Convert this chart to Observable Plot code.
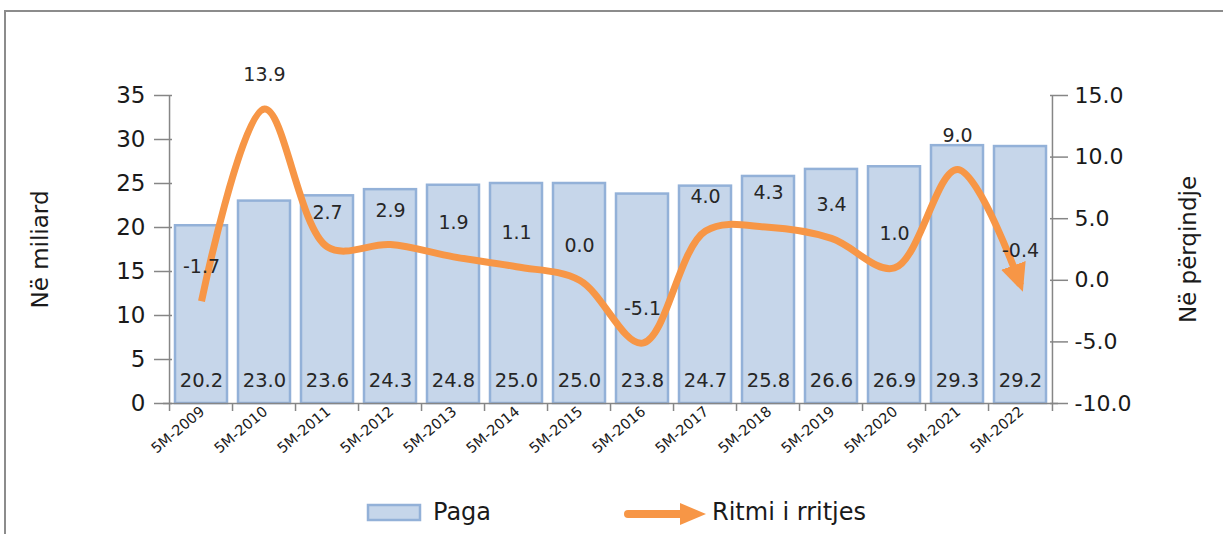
<!DOCTYPE html>
<html>
<head>
<meta charset="utf-8">
<script src="https://cdn.jsdelivr.net/npm/d3@7"></script>
<script src="https://cdn.jsdelivr.net/npm/@observablehq/plot@0.6"></script>
<style>
  html, body { margin: 0; padding: 0; background: #fff; overflow: hidden; }
  body { width: 1223px; height: 534px; position: relative; font-family: "DejaVu Sans", sans-serif; }
  #frame { position: absolute; left: 4px; top: 10px; width: 1400px; height: 700px;
           border-top: 2px solid #8c8c8c; border-left: 2px solid #8c8c8c; box-sizing: border-box; }
  #chart { position: absolute; left: 0; top: 0; }
  #legend { position: absolute; left: 0; top: 0; width: 1223px; height: 534px; pointer-events: none; }
  .leg { position: absolute; font-size: 24px; color: #1a1a1a; line-height: 1; }
</style>
</head>
<body>
<div id="frame"></div>
<div id="chart"></div>
<div id="legend">
  <svg style="position:absolute;left:366px;top:503px" width="58" height="20">
    <rect x="2" y="2" width="52" height="15" fill="#c6d6ea" stroke="#93b1d8" stroke-width="2.5"></rect>
  </svg>
  <div class="leg" style="left:433px;top:500px">Paga</div>
  <svg style="position:absolute;left:620px;top:500px" width="90" height="28">
    <line x1="8" y1="14" x2="64" y2="14" stroke="#f79646" stroke-width="8" stroke-linecap="round"></line>
    <path d="M60,3 L86,14 L60,25 Z" fill="#f79646"></path>
  </svg>
  <div class="leg" style="left:712px;top:500px">Ritmi i rritjes</div>
</div>
<script>
const categories = ["5M-2009","5M-2010","5M-2011","5M-2012","5M-2013","5M-2014","5M-2015",
                    "5M-2016","5M-2017","5M-2018","5M-2019","5M-2020","5M-2021","5M-2022"];
const paga  = [20.2, 23.0, 23.6, 24.3, 24.8, 25.0, 25.0, 23.8, 24.7, 25.8, 26.6, 26.9, 29.3, 29.2];
const ritmi = [-1.7, 13.9, 2.7, 2.9, 1.9, 1.1, 0.0, -5.1, 4.0, 4.3, 3.4, 1.0, 9.0, -0.4];
const leftTicks  = [0, 5, 10, 15, 20, 25, 30, 35];
const rightTicks = [-10, -5, 0, 5, 10, 15];

const leftDomain = [0, 35];
const rightDomain = [-10, 15];
const toLeft = v => leftDomain[0] + (v - rightDomain[0]) * (leftDomain[1] - leftDomain[0]) / (rightDomain[1] - rightDomain[0]);
const toRight = v => rightDomain[0] + (v - leftDomain[0]) * (rightDomain[1] - rightDomain[0]) / (leftDomain[1] - leftDomain[0]);

const data = categories.map((c, i) => ({cat: c, paga: paga[i], ritmi: ritmi[i], r2: toLeft(ritmi[i])}));

const W = 1223, H = 470, mL = 163, mR = 165, mT = 95, mB = 67;
const step = (W - mL - mR) / categories.length;
const axisColor = "#868686";
const textColor = "#262626";
const font = "'DejaVu Sans', sans-serif";

const plot = Plot.plot({
  width: W, height: H,
  marginLeft: mL, marginRight: mR, marginTop: mT, marginBottom: mB,
  style: {background: "transparent", fontFamily: font, color: textColor},
  x: {domain: categories, paddingInner: 0.18, paddingOuter: 0.09, axis: null},
  y: {domain: leftDomain, axis: null},
  marks: [
    Plot.barY(data, {x: "cat", y: "paga", fill: "#c6d6ea", stroke: "#93b1d8", strokeWidth: 2.5}),
    // axis lines
    Plot.ruleX([categories[0]], {x: d => d, y1: leftDomain[0], y2: leftDomain[1], dx: -step / 2, stroke: axisColor, strokeWidth: 1.5}),
    Plot.ruleX([categories[categories.length - 1]], {x: d => d, y1: leftDomain[0], y2: leftDomain[1], dx: step / 2, stroke: axisColor, strokeWidth: 1.5}),
    Plot.ruleY([0], {stroke: axisColor, strokeWidth: 1.5}),
    // left axis
    Plot.axisY(leftTicks, {anchor: "left", tickSize: 18, dx: 9, tickFormat: () => "", stroke: axisColor, strokeWidth: 1.5, label: null}),
    Plot.axisY(leftTicks, {anchor: "left", tickSize: 0, tickPadding: 18, fontSize: 23, fill: "#1a1a1a", label: null}),
    // right axis
    Plot.axisY(rightTicks.map(toLeft), {anchor: "right", tickSize: 18, dx: -9, tickFormat: () => "", stroke: axisColor, strokeWidth: 1.5, label: null}),
    Plot.axisY(rightTicks.map(toLeft), {anchor: "right", tickSize: 0, tickPadding: 16, fontSize: 22, fill: "#1a1a1a",
      tickFormat: d => toRight(d).toFixed(1), label: null}),
    // bottom axis
    Plot.axisX(categories, {anchor: "bottom", tickSize: 8, dx: -step / 2, tickFormat: () => "", stroke: axisColor, strokeWidth: 1.5, label: null}),
    Plot.axisX([categories[categories.length - 1]], {anchor: "bottom", tickSize: 8, dx: step / 2, tickFormat: () => "", stroke: axisColor, strokeWidth: 1.5, label: null}),
    Plot.axisX(categories, {anchor: "bottom", tickSize: 0, tickPadding: 6, tickRotate: -40, fontSize: 14.5, fill: "#1a1a1a", dx: 1, label: null}),
    // bar value labels
    Plot.text(data, {x: "cat", y: 0, text: d => d.paga.toFixed(1), dy: -23, fontSize: 19.5, fill: textColor}),
    // growth line
    Plot.line(data, {x: "cat", y: "r2", stroke: "#f79646", strokeWidth: 7, curve: "catmull-rom", strokeLinecap: "butt"}),
    Plot.text(data, {x: "cat", y: "r2", text: d => d.ritmi.toFixed(1), dy: -34, fontSize: 19, fill: textColor}),
    // axis titles
    Plot.text(["Në miliard"], {frameAnchor: "left", dx: -123, rotate: -90, textAnchor: "middle", fontSize: 23, fill: "#1a1a1a"}),
    Plot.text(["Në përqindje"], {frameAnchor: "right", dx: 130, rotate: -90, textAnchor: "middle", fontSize: 23, fill: "#1a1a1a"})
  ]
});

// filled arrowhead at the end of the growth line
const ns = "http://www.w3.org/2000/svg";
const defs = document.createElementNS(ns, "defs");
const marker = document.createElementNS(ns, "marker");
marker.setAttribute("id", "arrowhead");
marker.setAttribute("viewBox", "0 0 28 26");
marker.setAttribute("markerWidth", "28");
marker.setAttribute("markerHeight", "26");
marker.setAttribute("markerUnits", "userSpaceOnUse");
marker.setAttribute("refX", "21");
marker.setAttribute("refY", "13");
marker.setAttribute("orient", "auto");
const mp = document.createElementNS(ns, "path");
mp.setAttribute("d", "M0,0 L28,13 L0,26 Z");
mp.setAttribute("fill", "#f79646");
marker.appendChild(mp);
defs.appendChild(marker);
plot.insertBefore(defs, plot.firstChild);
const linePath = plot.querySelector('g[aria-label="line"] path');
if (linePath) linePath.setAttribute("marker-end", "url(#arrowhead)");

document.getElementById("chart").appendChild(plot);
</script>
</body>
</html>
